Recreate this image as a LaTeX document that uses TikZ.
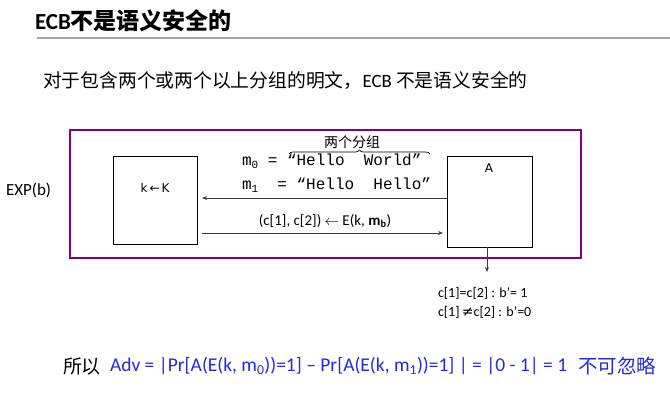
\documentclass[tikz,border=0pt]{standalone}
\usepackage{fontspec}
\setmainfont{Carlito}
\newfontfamily\cjk{Noto Sans CJK SC}
\newfontfamily\mono{Liberation Mono}
\newfontfamily\dv{DejaVu Sans}
\usetikzlibrary{arrows.meta,decorations.pathreplacing}
\definecolor{boxpurple}{RGB}{128,0,128}
\definecolor{txtblue}{RGB}{40,40,225}
\definecolor{linegray}{RGB}{166,166,166}
\definecolor{arrgray}{RGB}{60,60,60}
\tikzset{
  lbl/.style={inner sep=0pt, outer sep=0pt, text=black},
  boxst/.style={draw=black, line width=0.9pt, fill=white, inner sep=0pt, outer sep=0pt},
  arr/.style={draw=arrgray, line width=1pt, -{Stealth[length=5pt,width=4pt]}},
}
\begin{document}
\begin{tikzpicture}[x=1pt,y=-1pt]
\useasboundingbox (0,0) rectangle (670,400);
\fill[white] (0,0) rectangle (670,400);
% title
\node[lbl, anchor=west, font=\fontsize{23}{25}\selectfont] (title) at (35,21)
  {{\bfseries ECB}{\cjk\bfseries 不是语义安全的}};
\coordinate (rs) at (37,38);
\coordinate (re) at (670,38);
\draw[linegray, line width=2.5pt] (rs) -- (re);
% subtitle
\node[lbl, anchor=west, font=\fontsize{18.8}{20}\selectfont\cjk] (sub) at (43,81)
  {对于包含两个或两个以上分组的明文，{\rmfamily ECB} 不是语义安全的};
% experiment frame
\node[draw=boxpurple, line width=1.3pt, inner sep=0pt, outer sep=0pt,
      minimum width=511pt, minimum height=128pt] (exp) at (325.5,194) {};
\node[lbl, anchor=west, font=\fontsize{17}{19}\selectfont] (expl) at (6,190) {EXP(b)};
% boxes
\node[boxst, minimum width=84pt, minimum height=88pt] (kbox) at (155,200) {};
\node[lbl, font=\fontsize{12}{14}\selectfont\dv] (klbl) at (155,188) {k\,←\,K};
\node[boxst, minimum width=85pt, minimum height=91pt] (abox) at (489.5,201.5) {};
\node[lbl, font=\fontsize{12}{14}\selectfont\dv] (albl) at (489,168) {A};
% messages
\node[lbl, anchor=west, font=\fontsize{16}{18}\selectfont\mono] (m0) at (242,161)
  {m\raisebox{-3pt}{\fontsize{11}{11}\selectfont 0} = “Hello~~World”};
\node[lbl, anchor=west, font=\fontsize{16}{18}\selectfont\mono] (m1) at (242,185)
  {m\raisebox{-3pt}{\fontsize{11}{11}\selectfont 1}~~=~“Hello~~Hello”};
\coordinate (bl) at (289,154);
\coordinate (br) at (430,154);
\draw[black, line width=0.7pt, decorate, decoration={brace, amplitude=4pt}] (bl) -- (br);
\node[lbl, font=\fontsize{14}{16}\selectfont\cjk] (two) at (352,142) {两个分组};
% arrows
\draw[arr, shorten >=5pt] (abox.west |- 0,198) -- (kbox.east |- 0,198);
\draw[arr, shorten <=5pt, shorten >=4pt] (kbox.east |- 0,233) -- (abox.west |- 0,233);
\node[lbl, font=\fontsize{15}{17}\selectfont] (enc) at (325,221)
  {(c[1], c[2]) $\leftarrow$ E(k, {\bfseries m\textsubscript{b}})};
\coordinate (out) at (487,272);
\draw[arr] (abox.south -| out) -- (out);
\node[lbl, anchor=west, font=\fontsize{14}{16}\selectfont] (r1) at (438,293) {c[1]=c[2] : b’= 1};
\node[lbl, anchor=west, font=\fontsize{14}{16}\selectfont] (r2) at (438,312) {c[1]\,{\dv ≠}c[2] : b’=0};
% conclusion
\node[lbl, anchor=west, font=\fontsize{19}{21}\selectfont\cjk] (so) at (63,366) {所以};
\node[lbl, anchor=west, text=txtblue, font=\fontsize{19.5}{22}\selectfont] (adv) at (110,366)
  {Adv = |Pr[A(E(k, m\textsubscript{0}))=1] – Pr[A(E(k, m\textsubscript{1}))=1] | = |0 - 1| = 1};
\node[lbl, anchor=west, text=txtblue, font=\fontsize{19.5}{21}\selectfont\cjk] (neg) at (578,366) {不可忽略};
\end{tikzpicture}
\end{document}
